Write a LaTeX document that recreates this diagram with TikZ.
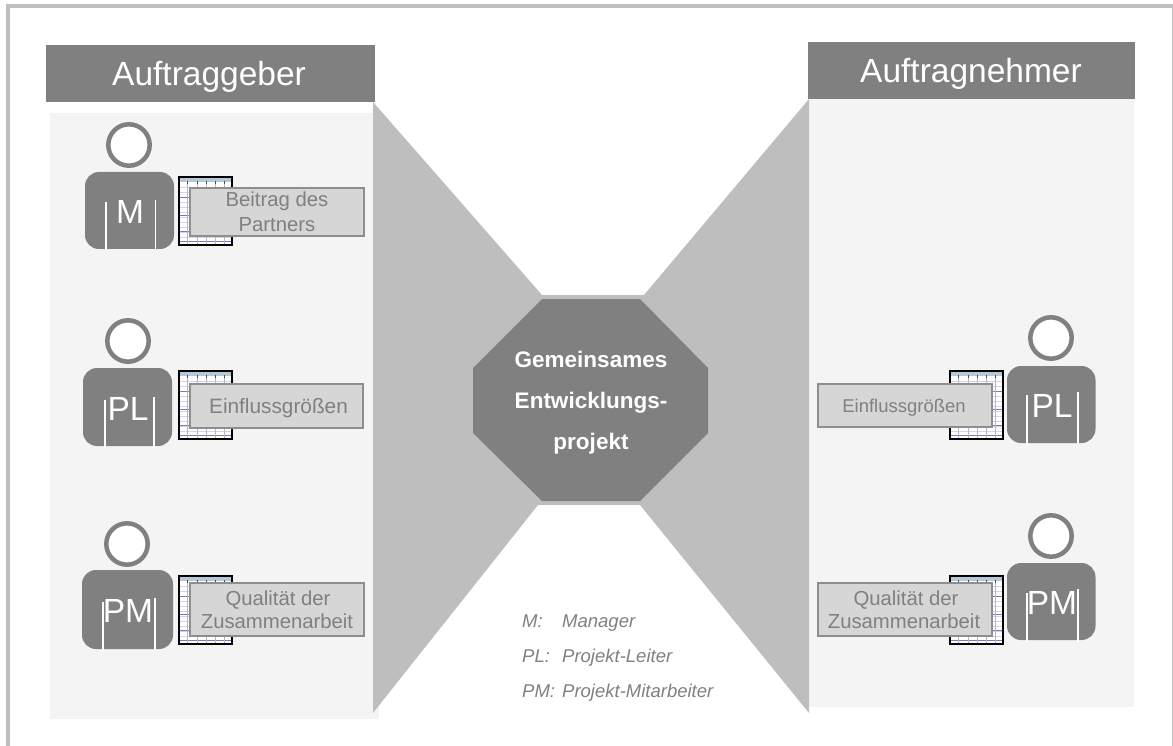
\documentclass[tikz,border=0pt]{standalone}
\usepackage{fontspec}
\setmainfont{Liberation Sans}
\usepackage{xcolor}

\definecolor{darkgrey}{HTML}{808080}
\definecolor{midgrey}{HTML}{BEBEBE}
\definecolor{panelgrey}{HTML}{F4F4F4}
\definecolor{boxgrey}{HTML}{D6D6D6}
\definecolor{boxline}{HTML}{8E8E8E}
\definecolor{sheetrow}{HTML}{D4D4E6}
\definecolor{sheetmark}{HTML}{7A7AB8}
\definecolor{sheethead}{HTML}{B4C8D8}

\tikzset{
    headtitle/.style={anchor=base, inner sep=0pt, text=white, font=\fontsize{33.5}{36}\selectfont},
    persontag/.style={anchor=base, inner sep=0pt, text=white, font=\fontsize{33.5}{36}\selectfont},
    boxtext/.style={anchor=base, inner sep=0pt, text=darkgrey, font=\fontsize{20.3}{24}\selectfont},
    legendtext/.style={anchor=base west, inner sep=0pt, text=darkgrey, font=\itshape\fontsize{18.5}{22}\selectfont},
    sheet/.pic={
        \fill[white] (0,0) rectangle (53,68);
        \fill[sheethead] (0,1) rectangle (53,5);
        \foreach \r in {10,15,...,60}
            \draw[sheetrow, line width=0.6pt] (0,\r) -- (53,\r);
        \foreach \r in {20,38,54,64}
            \draw[sheetmark, line width=0.7pt] (0,\r) -- (53,\r);
        \foreach \c in {8,18,27,36,45}
            \draw[sheetrow!85!black, line width=0.4pt] (\c,5) -- (\c,68);
        \foreach \c in {8,18,27,36,45}
            \draw[black!70, line width=0.7pt] (\c,4) -- (\c,7);
        \draw[black, line width=1.2pt] (0,0) rectangle (53,68);
    }
}

\begin{document}
\begin{tikzpicture}[x=1pt,y=-1pt]
    \useasboundingbox (0,0) rectangle (1173,746);

    \draw[midgrey, line width=3.5pt] (8,6) rectangle (1173.5,752);

    % panels and headers
    \fill[panelgrey] (50,113) rectangle (379,719);
    \fill[panelgrey] (809,99) rectangle (1134,707);

    \fill[midgrey] (373,102) -- (542,295) -- (644,295) -- (809,99) -- (809,713)
        -- (640,505) -- (538,505) -- (373,713) -- cycle;

    \fill[darkgrey] (46,45) rectangle (375,102);
    \fill[darkgrey] (808,42) rectangle (1135,99);
    \node[headtitle] (kunde) at (209,86) {Auftraggeber};
    \node[headtitle] (lieferant) at (971,83) {Auftragnehmer};

    % centre
    \fill[darkgrey] (542,299) -- (640,299) -- (708,368) -- (708,433)
        -- (640,501) -- (542,501) -- (473,433) -- (473,368) -- cycle;
    \node[align=center, inner sep=0pt, text=white, font=\bfseries\fontsize{22.5}{41}\selectfont] (projekt) at (591,403)
        {Gemeinsames\\Entwicklungs-\\projekt};

    % spreadsheets
    \foreach \n/\x/\y in {M/179/177, PL/179/371, PM/179/576, rPL/950/371, rPM/950/576}
        \pic (sheet\n) at (\x,\y) {sheet};

    % boxes
    \foreach \n/\xa/\ya/\xb/\yb in {M/190/188/364/236, PL/190/384/363/428, PM/190/583/364/636, rPL/818/384/992/427, rPM/818/583/992/636}
        \draw[fill=boxgrey, draw=boxline, line width=1.2pt] (\xa,\ya) rectangle (\xb,\yb);

    \node[boxtext] (beitrag) at (277,207) {Beitrag des};
    \node[boxtext] (partner) at (277,232) {Partners};
    \node[boxtext, font=\fontsize{20.8}{24}\selectfont] (einfluss) at (278.5,413) {Einflussgrößen};
    \node[boxtext] (qualitaet) at (278,605) {Qualität der};
    \node[boxtext] (zusammen) at (277,628) {Zusammenarbeit};
    \node[boxtext, font=\fontsize{18.5}{22}\selectfont] (reinfluss) at (904,412) {Einflussgrößen};
    \node[boxtext] (rqualitaet) at (906,605) {Qualität der};
    \node[boxtext] (rzusammen) at (904,628) {Zusammenarbeit};

    % persons
    \foreach \n/\hx/\hy/\xa/\ya/\xb/\yb/\la/\lat/\lb/\lbt/\tx/\ty/\lab in {
        M/129/145/85/172/174/249/106/202/155.5/200/130/224/M,
        PL/128/341/83/368/172/446/105/400/154/397/128/420/PL,
        PM/127/544/82/570/173/649/103/602/155/598/128/622/PM,
        rPL/1051/338/1007/366/1095.5/443/1027/395/1078/392/1052/417/PL,
        rPM/1051/536/1007/563/1095.5/640/1027/593/1078/589/1052/614/PM}
    {
        \draw[darkgrey, fill=white, line width=4.5pt] (\hx,\hy) circle (20.7);
        \fill[darkgrey, rounded corners=14pt] (\xa,\ya) rectangle (\xb,\yb);
        \node[persontag] (tag\n) at (\tx,\ty) {\lab};
        \draw[white, line width=1.2pt] (\la,\lat) -- (\la,\yb+2);
        \draw[white, line width=1.2pt] (\lb,\lbt) -- (\lb,\yb+2);
    }

    % legend
    \node[legendtext] (keym) at (522,627) {M:};
    \node[legendtext] (keypl) at (522,662) {PL:};
    \node[legendtext] (keypm) at (522,697) {PM:};
    \node[legendtext] (textm) at (562,627) {Manager};
    \node[legendtext] (textpl) at (562,662) {Projekt-Leiter};
    \node[legendtext] (textpm) at (562,697) {Projekt-Mitarbeiter};

\end{tikzpicture}
\end{document}
